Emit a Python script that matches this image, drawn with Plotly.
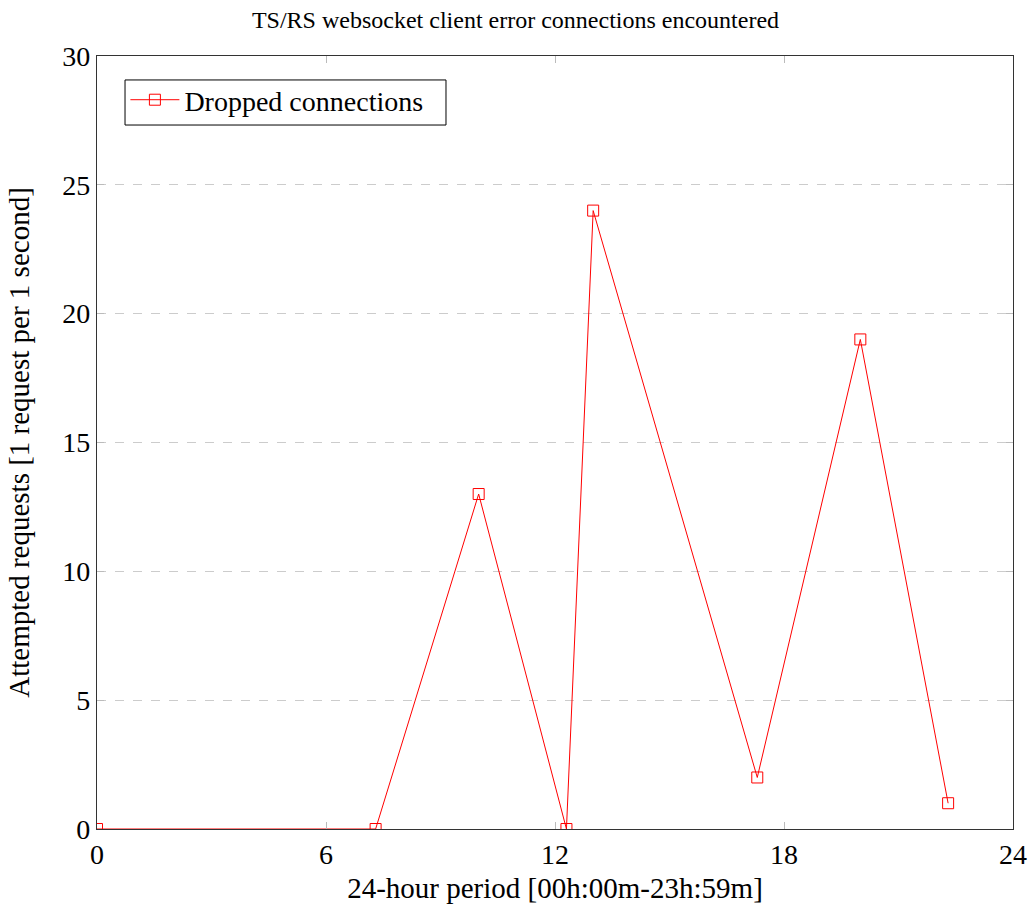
import plotly.graph_objects as go

hours = [0, 7.3, 10, 12.3, 13, 17.3, 20, 22.3]
dropped = [0, 0, 13, 0, 24, 2, 19, 1]
x_ticks = [0, 6, 12, 18, 24]
y_ticks = [0, 5, 10, 15, 20, 25, 30]

FONT = "Liberation Serif, Times New Roman, serif"

fig = go.Figure()
fig.add_trace(go.Scatter(
    x=hours, y=dropped, mode="lines+markers", name="Dropped connections",
    line=dict(color="#ff0000", width=1),
    marker=dict(symbol="square-open", size=11, color="#ff0000", line=dict(width=1)),
))

# legend frame (layout decoration)
fig.add_shape(type="rect", xref="paper", yref="paper",
              x0=0.0306, x1=0.381, y0=0.9107, y1=0.969,
              line=dict(color="black", width=1), fillcolor="white", layer="below")

fig.update_layout(
    width=1031, height=906,
    paper_bgcolor="white", plot_bgcolor="white",
    margin=dict(l=97, r=18, t=56, b=77),
    font=dict(family=FONT, size=24, color="black"),
    title=dict(text="TS/RS websocket client error connections encountered",
               x=0.5, xanchor="center", y=0.978, yanchor="middle",
               font=dict(family=FONT, size=24)),
    showlegend=True,
    legend=dict(x=0.031, y=0.9754, xanchor="left", yanchor="top",
                borderwidth=0, bgcolor="rgba(0,0,0,0)",
                font=dict(family=FONT, size=28),
                itemwidth=49, tracegroupgap=0),
    xaxis=dict(range=[0, 24], tickvals=x_ticks, showgrid=False, zeroline=False,
               automargin=False,
               showline=True, linecolor="#333", linewidth=1.3, mirror="ticks",
               ticks="inside", ticklen=7, tickcolor="#bbb", tickwidth=1,
               tickfont=dict(family=FONT, size=28),
               title=dict(text="24-hour period [00h:00m-23h:59m]", standoff=8,
                          font=dict(family=FONT, size=29))),
    yaxis=dict(range=[0, 30], tickvals=y_ticks, showgrid=True, gridcolor="#cccccc",
               griddash="dash", gridwidth=1, zeroline=False,
               automargin=False,
               showline=True, linecolor="#333", linewidth=1.3, mirror="ticks",
               ticks="inside", ticklen=7, tickcolor="#bbb", tickwidth=1,
               tickfont=dict(family=FONT, size=28),
               title=dict(text="Attempted requests [1 request per 1 second]", standoff=24,
                          font=dict(family=FONT, size=29))),
)

fig.write_html("out.html", config={"displayModeBar": False},
               post_script="document.body.style.margin='0';document.body.style.overflow='hidden';")
